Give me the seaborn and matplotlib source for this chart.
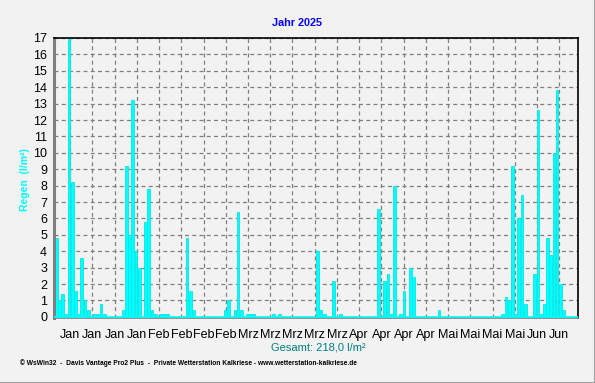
import numpy as np
import pandas as pd
import matplotlib
matplotlib.use("Agg")
import matplotlib.pyplot as plt
import seaborn as sns

# daily rain 2025 (l/m²)
jan = [4.8, 1.0, 1.4, 0.2, 17.0, 8.2, 1.6, 0.2, 3.6, 1.0,
       0.4, 0, 0.2, 0.2, 0.8, 0.2, 0, 0, 0, 0,
       0, 0.4, 9.2, 5.0, 13.2, 4.0, 3.0, 0, 5.8, 7.8,
       0.4]
feb = [0.2, 0, 0.2, 0.2, 0.2, 0, 0, 0, 0, 0,
       4.8, 1.6, 0.4, 0, 0, 0, 0, 0, 0, 0,
       0, 0, 0.4, 1.0, 0, 0.4, 6.4, 0.4]
mar = [0, 0.2, 0.2, 0.2, 0, 0, 0, 0, 0, 0.2,
       0, 0.2, 0, 0, 0, 0, 0, 0, 0, 0,
       0, 0, 0, 4.0, 0.4, 0.2, 0, 0, 2.2, 0,
       0.2]
apr = [0, 0, 0, 0, 0, 0, 0, 0, 0, 0,
       0, 6.6, 0, 2.2, 2.6, 0.2, 8.0, 0, 0.2, 1.6,
       0, 3.0, 2.4, 0, 0, 0, 0, 0, 0, 0]
mai = [0.4, 0, 0, 0, 0, 0, 0, 0, 0, 0,
       0, 0, 0, 0, 0, 0, 0, 0, 0, 0,
       0.2, 1.2, 1.0, 9.2, 0.2, 6.0, 7.4, 0.8, 0, 0,
       2.6]
jun = [12.6, 0.2, 0.8, 4.8, 3.8, 10.0, 13.8, 2.0, 0.4, 0, 0, 0, 0]

week_labels = ["Jan"] * 4 + ["Feb"] * 4 + ["Mrz"] * 5 + ["Apr"] * 4 + ["Mai"] * 4 + ["Jun"] * 2

rain = jan + feb + mar + apr + mai + jun
df = pd.DataFrame({"Tag": np.arange(len(rain)), "Regen": rain})
total = df["Regen"].sum()

sns.set_style("white")
plt.rcParams["font.family"] = ["Liberation Sans", "DejaVu Sans"]
bg = "#F2F2F2"

fig = plt.figure(figsize=(5.95, 3.83), dpi=100, facecolor=bg)
ax = fig.add_axes([54 / 595, 1 - 318 / 383, (577.5 - 54) / 595, (318 - 38) / 383])
ax.set_facecolor(bg)

sns.barplot(data=df, x="Tag", y="Regen", color="#00FFFF", saturation=1,
            width=0.86, edgecolor="#00E8E8", linewidth=0.6, ax=ax)
ax.axhline(0, color="#00FFFF", lw=1.2, zorder=3)

# weekly grid
wk = 4.35 + 6.97 * np.arange(len(week_labels))
ax.set_xticks(wk)
ax.set_xticklabels(week_labels)
ax.set_xticks(4.35 - 1.7425 * 2 + 1.7425 * np.arange(0, 95), minor=True)
ax.set_yticks(np.arange(0, 18))
ax.set_yticks(np.arange(0, 17.01, 0.2), minor=True)
ax.set_xlim(-0.72, 163.4)
ax.set_ylim(-0.07, 17)

ax.grid(True, which="major", color="#808080", lw=0.9, linestyle=(0, (3.2, 2.6)))
ax.set_axisbelow(True)

ax.tick_params(axis="both", which="major", labelsize=9, colors="#000000",
               direction="out", length=3, width=1, color="#808080")
ax.tick_params(axis="both", which="minor", direction="out", length=1.5,
               width=0.8, color="#808080")
ax.tick_params(axis="x", which="major", pad=5)
ax.tick_params(axis="y", which="major", pad=2)

for s in ["top", "right"]:
    ax.spines[s].set_color("#000000")
    ax.spines[s].set_linewidth(1.2)
ax.spines["left"].set_color("#808080")
ax.spines["left"].set_linewidth(2.2)
ax.spines["bottom"].set_color("#808080")
ax.spines["bottom"].set_linewidth(1.2)

ax.set_xlabel("")
ax.set_ylabel("")

fig.text(0.5, 1 - 23 / 383, "Jahr 2025", color="#0000FF", fontsize=7.8,
         fontweight="bold", ha="center", va="center")
fig.text(25 / 595, 1 - 180 / 383, "Regen  (l/m²)", color="#00FFFF", fontsize=7.5,
         fontweight="bold", rotation=90, ha="center", va="center")
fig.text(318 / 595, 1 - 347 / 383, "Gesamt: " + f"{total:.1f}".replace(".", ",") + " l/m²",
         color="#008080", fontsize=8, ha="center", va="center")
fig.text(20 / 595, 1 - 363 / 383,
         "© WsWin32  -  Davis Vantage Pro2 Plus  -  Private Wetterstation Kalkriese - www.wetterstation-kalkriese.de",
         color="#000000", fontsize=4.8, fontweight="bold", ha="left", va="center")

# window frame
fig.add_artist(plt.Line2D([0, 1], [0.5 / 383, 0.5 / 383], color="#A0A0A0", lw=1.5))
fig.add_artist(plt.Line2D([1 - 0.5 / 595, 1 - 0.5 / 595], [0, 1], color="#A0A0A0", lw=1.5))

fig.savefig("out.png", dpi=100, facecolor=bg)
